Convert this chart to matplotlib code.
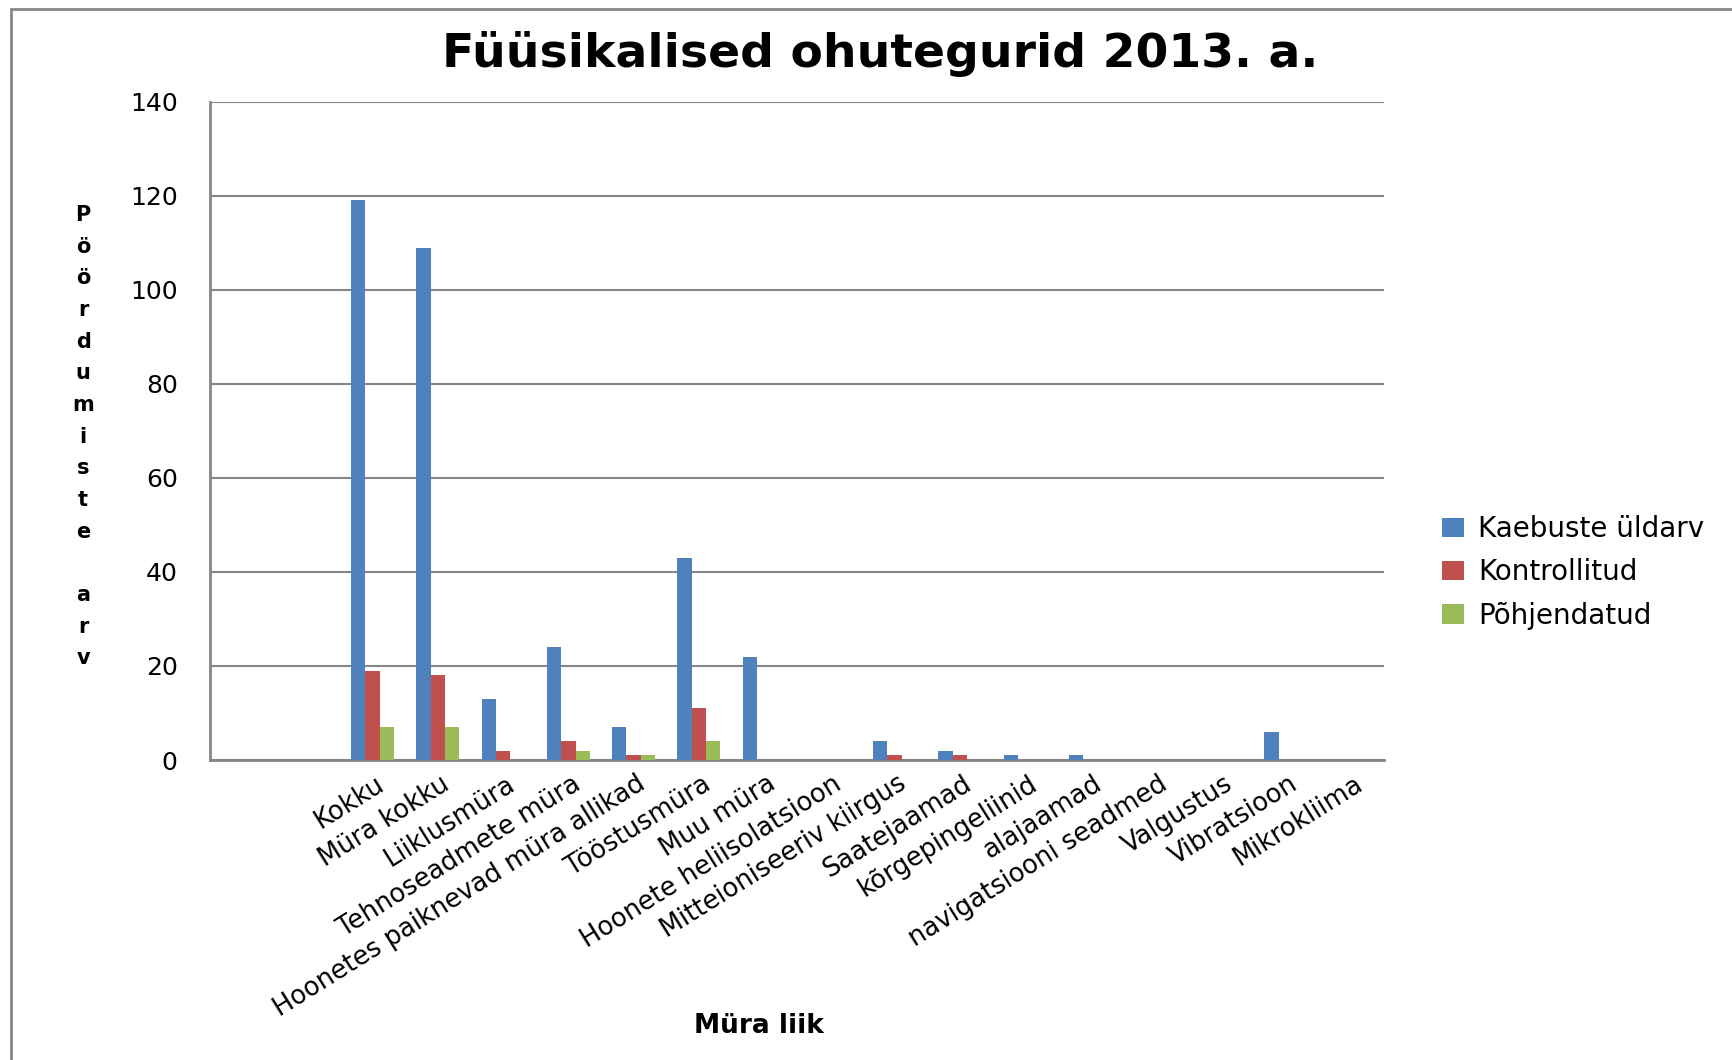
import numpy as np
import matplotlib
matplotlib.use('Agg')
import matplotlib.pyplot as plt
from matplotlib.patches import Rectangle
from matplotlib.transforms import ScaledTranslation

categories = ['', '', 'Kokku', 'Müra kokku', 'Liiklusmüra', 'Tehnoseadmete müra',
              'Hoonetes paiknevad müra allikad', 'Tööstusmüra', 'Muu müra',
              'Hoonete heliisolatsioon', 'Mitteioniseeriv kiirgus', 'Saatejaamad',
              'kõrgepingeliinid', 'alajaamad', 'navigatsiooni seadmed', 'Valgustus',
              'Vibratsioon', 'Mikrokliima']
kaebuste_uldarv = [0, 0, 119, 109, 13, 24, 7, 43, 22, 0, 4, 2, 1, 1, 0, 0, 6, 0]
kontrollitud = [0, 0, 19, 18, 2, 4, 1, 11, 0, 0, 1, 1, 0, 0, 0, 0, 0, 0]
pohjendatud = [0, 0, 7, 7, 0, 2, 1, 4, 0, 0, 0, 0, 0, 0, 0, 0, 0, 0]
series_names = ['Kaebuste üldarv', 'Kontrollitud', 'Põhjendatud']
colors = ['#4F81BD', '#C0504D', '#9BBB59']

plt.rcParams['font.family'] = ['DejaVu Sans']

fig = plt.figure(figsize=(17.32, 10.60), dpi=100)
ax = fig.add_axes([0.121, 0.283, 0.678, 0.621])

x = np.arange(len(categories))
w = 0.22
for i, (vals, name, c) in enumerate(zip([kaebuste_uldarv, kontrollitud, pohjendatud], series_names, colors)):
    ax.bar(x + (i - 1) * w, vals, w, color=c, label=name, zorder=3)

ax.set_xlim(-0.5, len(categories) - 0.5)
ax.set_ylim(0, 140)
ax.set_yticks(range(0, 141, 20))
ax.yaxis.grid(True, color='#868686', linewidth=1.5, zorder=0)
for s in ['top', 'right']:
    ax.spines[s].set_visible(False)
for s in ['left', 'bottom']:
    ax.spines[s].set_color('#868686')
    ax.spines[s].set_linewidth(2)
ax.tick_params(axis='both', length=0)
ax.tick_params(axis='y', labelsize=18, pad=23)

ax.set_xticks(x)
ax.set_xticklabels(categories, rotation=32, ha='right', va='top',
                   rotation_mode='anchor', fontsize=18.5)
for lbl in ax.get_xticklabels():
    lbl.set_transform(lbl.get_transform() + ScaledTranslation(0.03, -0.06, fig.dpi_scale_trans))

fig.text(0.508, 0.949, 'Füüsikalised ohutegurid 2013. a.', ha='center', va='center',
         fontsize=34, fontweight='bold')
fig.text(0.438, 0.032, 'Müra liik', ha='center', va='center', fontsize=19, fontweight='bold')
fig.text(0.048, 0.588, '\n'.join('Pöördumiste arv'), ha='center', va='center',
         fontsize=15, fontweight='bold', linespacing=1.73)

ax.legend(loc='center left', bbox_to_anchor=(1.028, 0.285), frameon=False, fontsize=20,
          handlelength=0.8, handleheight=0.7, labelspacing=0.55, handletextpad=0.5)

fig.patches.append(Rectangle((11 / 1732, -0.1), 1.2, 1 - 9 / 1060 + 0.1, transform=fig.transFigure,
                             fill=False, edgecolor='#868686', linewidth=2))

fig.savefig('out.png', dpi=100)
